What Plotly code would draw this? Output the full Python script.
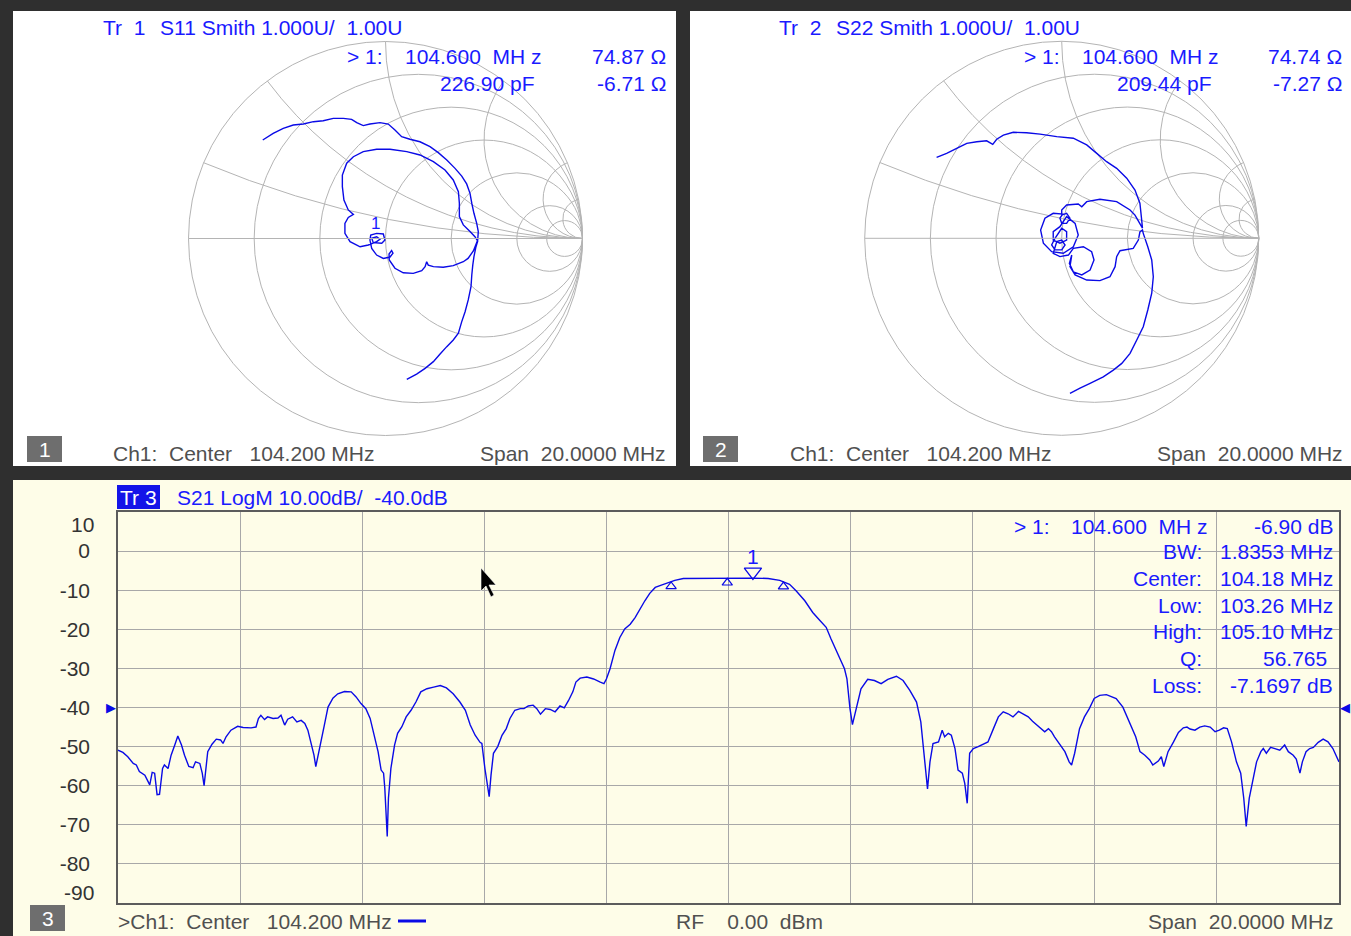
import numpy as np
import plotly.graph_objects as go

W, H = 1351, 936

# ---------------- data ----------------
s21_freq_mhz = [94.20, 94.28, 94.36, 94.45, 94.50, 94.55, 94.64, 94.72, 94.76, 94.80, 94.84, 94.88, 94.93, 94.96,
                95.02, 95.07, 95.13, 95.18, 95.24, 95.29, 95.36, 95.43, 95.47, 95.54, 95.58, 95.61, 95.67, 95.74,
                95.81, 95.88, 95.92, 95.97, 96.05, 96.16, 96.25, 96.38, 96.46, 96.50, 96.54, 96.60, 96.65, 96.74,
                96.82, 96.87, 96.93, 96.98, 97.06, 97.13, 97.20, 97.26, 97.31, 97.36, 97.41, 97.44, 97.48, 97.53,
                97.58, 97.64, 97.72, 97.80, 97.91, 98.02, 98.10, 98.18, 98.26, 98.33, 98.40, 98.46, 98.51, 98.55,
                98.57, 98.61, 98.63, 98.67, 98.73, 98.78, 98.85, 98.92, 99.00, 99.08, 99.16, 99.26, 99.37, 99.48,
                99.58, 99.69, 99.80, 99.89, 99.97, 100.05, 100.13, 100.16, 100.21, 100.24, 100.28, 100.31, 100.35,
                100.42, 100.49, 100.56, 100.62, 100.70, 100.79, 100.85, 100.92, 101.00, 101.06, 101.12, 101.20,
                101.28, 101.36, 101.44, 101.51, 101.58, 101.65, 101.70, 101.77, 101.88, 101.99, 102.10, 102.16,
                102.20, 102.26, 102.34, 102.42, 102.50, 102.59, 102.67, 102.75, 102.83, 102.91, 103.00, 103.10,
                103.21, 103.32, 103.46, 103.68, 103.95, 104.23, 104.36, 104.60, 104.85, 105.04, 105.20, 105.31,
                105.45, 105.58, 105.69, 105.80, 105.88, 105.99, 106.10, 106.14, 106.19, 106.23, 106.29, 106.37,
                106.48, 106.59, 106.70, 106.81, 106.95, 107.06, 107.17, 107.28, 107.35, 107.40, 107.46, 107.50,
                107.55, 107.64, 107.70, 107.74, 107.80, 107.85, 107.91, 107.96, 108.03, 108.07, 108.11, 108.15,
                108.21, 108.29, 108.37, 108.45, 108.54, 108.62, 108.70, 108.78, 108.86, 108.95, 109.03, 109.11,
                109.18, 109.30, 109.38, 109.44, 109.49, 109.54, 109.62, 109.71, 109.78, 109.82, 109.87, 109.95,
                110.03, 110.11, 110.19, 110.28, 110.39, 110.47, 110.55, 110.66, 110.77, 110.87, 110.94, 111.02,
                111.10, 111.15, 111.24, 111.29, 111.33, 111.40, 111.49, 111.57, 111.65, 111.71, 111.76, 111.84,
                111.92, 112.00, 112.09, 112.17, 112.24, 112.31, 112.37, 112.44, 112.52, 112.59, 112.64, 112.68,
                112.73, 112.79, 112.85, 112.92, 112.96, 113.01, 113.08, 113.15, 113.23, 113.31, 113.37, 113.45,
                113.50, 113.56, 113.60, 113.66, 113.72, 113.78, 113.86, 113.94, 114.02, 114.10, 114.20]
s21_db = [-50.9, -51.5, -52.6, -54.3, -54.7, -56.4, -57.3, -59.8, -56.6, -56.8, -62.3, -62.2, -55.6, -54.7,
          -55.6, -52.2, -49.6, -47.3, -49.6, -52.2, -55.1, -55.4, -53.9, -54.3, -56.8, -60.0, -51.3, -49.4,
          -48.1, -48.3, -49.2, -47.5, -45.8, -44.8, -45.1, -45.2, -45.0, -42.8, -42.0, -43.1, -42.4, -42.8,
          -42.7, -42.0, -44.5, -43.0, -42.4, -43.7, -43.3, -44.1, -45.8, -49.2, -52.2, -55.1, -52.2, -48.8,
          -44.5, -39.9, -37.6, -36.5, -35.9, -36.0, -37.3, -39.0, -40.3, -42.8, -47.1, -51.3, -56.0, -56.8,
          -60.6, -73.0, -63.2, -55.6, -49.6, -46.6, -44.9, -42.4, -40.7, -38.6, -36.0, -35.2, -34.8, -34.4,
          -35.0, -36.5, -38.6, -40.7, -44.5, -47.1, -48.9, -49.2, -55.6, -58.9, -62.8, -57.3, -51.7,
          -50.0, -47.1, -45.4, -42.8, -40.7, -40.3, -40.3, -39.6, -39.4, -40.3, -41.7, -40.3,
          -40.5, -41.1, -39.6, -40.1, -38.2, -36.0, -33.5, -32.5, -32.2, -32.7, -33.5, -33.9,
          -32.7, -30.1, -25.4, -22.1, -19.9, -18.7, -17.0, -14.8, -12.7, -10.8, -9.3, -8.7,
          -8.1, -7.5, -7.0, -6.95, -6.9, -6.9, -6.9, -6.9, -7.0, -7.5, -8.5, -10.2,
          -12.7, -15.7, -17.6, -19.5, -22.5, -26.3, -30.1, -32.7, -40.3, -44.4, -40.3, -35.2,
          -32.8, -33.1, -33.9, -32.8, -32.0, -33.1, -35.6, -38.6, -43.7, -52.2, -60.8, -53.9,
          -49.2, -48.8, -45.8, -47.5, -46.6, -47.1, -50.5, -56.0, -56.8, -59.4, -64.5, -51.7,
          -50.5, -50.0, -49.4, -48.8, -45.4, -42.4, -41.1, -41.6, -42.4, -41.0, -41.7, -42.4,
          -43.5, -45.2, -46.2, -45.4, -46.2, -47.5, -49.2, -51.3, -53.9, -54.7, -51.7, -45.4,
          -42.4, -40.3, -37.7, -36.9, -36.7, -37.1, -37.7, -39.9, -43.7, -47.5, -51.3, -52.2,
          -53.4, -54.7, -53.7, -52.6, -55.1, -51.3, -48.8, -46.4, -45.2, -45.0, -45.5, -45.8,
          -45.0, -44.7, -45.0, -46.2, -45.8, -45.2, -45.4, -48.8, -53.9, -56.8, -63.2, -70.4,
          -63.2, -58.1, -53.9, -51.3, -50.5, -51.7, -50.2, -50.5, -50.9, -49.6, -51.3, -52.2,
          -53.2, -56.8, -53.9, -51.3, -50.5, -50.2, -48.9, -48.1, -48.8, -50.5, -53.9]

# S11 / S22 reflection coefficient (Gamma)
s11_gamma_re = [-0.623, -0.570, -0.519, -0.468, -0.417, -0.366, -0.316, -0.265, -0.214, -0.172, -0.146, -0.113,
                -0.079, -0.028, 0.014, 0.048, 0.082, 0.124, 0.175,
                0.226, 0.268, 0.311, 0.353, 0.387, 0.412, 0.429, 0.438, 0.449, 0.463, 0.471, 0.468,
                0.446, 0.419, 0.395, 0.344, 0.293, 0.243, 0.217, 0.209, 0.201, 0.184, 0.141, 0.090, 0.048,
                0.019, 0.018, 0.031, 0.038, 0.023, -0.011, -0.045, -0.070,
                -0.079, -0.075, -0.045, -0.011, -0.003, -0.019, -0.062, -0.070, -0.045, -0.028, -0.045, -0.087,
                -0.129, -0.180, -0.206, -0.206, -0.189, -0.163,
                -0.189, -0.211, -0.219, -0.219, -0.197, -0.163, -0.113, -0.045, 0.023, 0.108, 0.175, 0.243,
                0.302, 0.344, 0.370, 0.375, 0.375, 0.395, 0.429, 0.454, 0.468,
                0.459, 0.449, 0.443, 0.438, 0.434, 0.420, 0.404, 0.387, 0.370, 0.344, 0.311, 0.277, 0.243,
                0.201, 0.158, 0.108]
s11_gamma_im = [0.500, 0.534, 0.559, 0.576, 0.581, 0.593, 0.598, 0.610, 0.610, 0.605, 0.588, 0.573,
                0.581, 0.588, 0.581, 0.551, 0.517, 0.504, 0.491,
                0.466, 0.436, 0.398, 0.356, 0.317, 0.277, 0.229, 0.179, 0.128, 0.077, 0.035, -0.008,
                -0.063, -0.101, -0.118, -0.138, -0.146, -0.143, -0.135, -0.118, -0.143, -0.163, -0.177, -0.174,
                -0.151, -0.109, -0.079, -0.061, -0.074, -0.094, -0.101, -0.084, -0.050,
                -0.008, 0.018, 0.026, 0.023, -0.008, -0.024, -0.021, 0.001, 0.009, -0.004, -0.016, -0.033,
                -0.042, -0.016, 0.026, 0.077, 0.107, 0.122,
                0.145, 0.195, 0.263, 0.322, 0.382, 0.415, 0.441, 0.453, 0.453, 0.441, 0.424, 0.390,
                0.348, 0.297, 0.238, 0.179, 0.111, 0.069, 0.035, 0.009, -0.013,
                -0.043, -0.092, -0.135, -0.185, -0.245, -0.312, -0.372, -0.422, -0.481, -0.515, -0.549, -0.586,
                -0.625, -0.659, -0.688, -0.715]

s22_gamma_re = [-0.635, -0.584, -0.533, -0.482, -0.431, -0.381, -0.350, -0.330, -0.296, -0.246, -0.178, -0.110,
                -0.025, 0.059, 0.127, 0.178, 0.228, 0.279, 0.330, 0.372, 0.397, 0.406, 0.410,
                0.372, 0.347, 0.279, 0.194, 0.127, 0.102, 0.084, 0.025, 0.000, 0.000,
                0.025, 0.042, 0.025, 0.000, -0.009, 0.005,
                -0.043, -0.085, -0.107, -0.093, -0.051, 0.008, 0.059, 0.084, 0.068, 0.025,
                -0.009, -0.043, -0.043, -0.009, 0.025, 0.025, 0.000,
                -0.034, -0.051, -0.034, 0.000, 0.017, 0.000, -0.025, -0.043, -0.009, 0.034,
                0.059, 0.110, 0.152, 0.164, 0.144, 0.102, 0.059, 0.039, 0.051,
                0.042, 0.068, 0.127, 0.194, 0.245, 0.271, 0.279, 0.296, 0.363, 0.389, 0.397, 0.410,
                0.414, 0.437, 0.457, 0.465, 0.457, 0.437, 0.414, 0.381, 0.347, 0.305, 0.262, 0.211,
                0.144, 0.093, 0.042]
s22_gamma_im = [0.411, 0.431, 0.457, 0.482, 0.490, 0.495, 0.477, 0.503, 0.524, 0.538, 0.536, 0.529,
                0.516, 0.508, 0.474, 0.431, 0.389, 0.355, 0.305, 0.245, 0.178, 0.093, 0.052,
                0.118, 0.144, 0.186, 0.198, 0.186, 0.160, 0.174, 0.169, 0.144, 0.118,
                0.127, 0.102, 0.076, 0.076, 0.102, 0.123,
                0.127, 0.102, 0.042, -0.025, -0.068, -0.076, -0.043, 0.017, 0.076, 0.110,
                0.059, 0.034, -0.009, -0.025, -0.009, 0.034, 0.051,
                0.000, -0.034, -0.059, -0.059, -0.034, -0.009, -0.017, -0.076, -0.093, -0.085,
                -0.051, -0.043, -0.068, -0.110, -0.161, -0.186, -0.170, -0.127, -0.085,
                -0.144, -0.186, -0.212, -0.215, -0.195, -0.144, -0.093, -0.063, -0.051, -0.009, 0.032, 0.042,
                0.025, -0.043, -0.110, -0.195, -0.279, -0.364, -0.449, -0.516, -0.584, -0.635, -0.669, -0.703,
                -0.736, -0.761, -0.787]

x_grid_mhz = [94.2, 96.2, 98.2, 100.2, 102.2, 104.2, 106.2, 108.2, 110.2, 112.2, 114.2]
y_tick_vals = [0, -10, -20, -30, -40, -50, -60, -70, -80]
y_tick_text = ["0", "-10", "-20", "-30", "-40", "-50", "-60", "-70", "-80"]
y_top, y_bottom = 10, -90
smith_grid = [0.2, 0.5, 1, 2, 5, 10]

marker_freq, marker_db = 104.600, -6.90
bw_freqs = [103.26, 104.18, 105.10]
ref_level_db = -40

# ---------------- styling ----------------
FONT = "Liberation Sans, Arial, sans-serif"
FS = 21
BLUE = "#1a1aff"
TRACE = "#0a0ae6"
GRAY_TXT = "#505050"
GRID = "#b4b4b4"
CREAM = "#fefde8"
FRAME = "#2f2f2f"


def gamma_to_z(re, im):
    g = np.array(re) + 1j * np.array(im)
    z = (1 + g) / (1 - g)
    return z.real, z.imag


def xp(px):
    return px / W


def yp(py):
    return 1 - py / H


def txt(s, x, y, anchor="left", size=FS, color=BLUE, **kw):
    return dict(text=s, x=xp(x), y=yp(y), xref="paper", yref="paper", xanchor=anchor,
                yanchor="middle", showarrow=False, font=dict(family=FONT, size=size, color=color), **kw)


fig = go.Figure()

# S11 / S22 traces
z11r, z11i = gamma_to_z(s11_gamma_re, s11_gamma_im)
z22r, z22i = gamma_to_z(s22_gamma_re, s22_gamma_im)
fig.add_trace(go.Scattersmith(real=z11r, imag=z11i, mode="lines", subplot="smith",
                              line=dict(color=TRACE, width=1.4), hoverinfo="skip"))
fig.add_trace(go.Scattersmith(real=z22r, imag=z22i, mode="lines", subplot="smith2",
                              line=dict(color=TRACE, width=1.4), hoverinfo="skip"))

# S21 trace
fig.add_trace(go.Scatter(x=s21_freq_mhz, y=s21_db, mode="lines", line=dict(color=TRACE, width=1.4),
                         hoverinfo="skip"))
# bandwidth markers (small open triangles just below trace)
bw_db = np.interp(bw_freqs, s21_freq_mhz, s21_db)
fig.add_trace(go.Scatter(x=bw_freqs, y=bw_db - 1.2, mode="markers",
                         marker=dict(symbol="triangle-up-open", size=9, color=TRACE, line=dict(width=1.2)),
                         hoverinfo="skip"))
# marker 1
fig.add_trace(go.Scatter(x=[marker_freq], y=[marker_db + 1.6], mode="markers",
                         marker=dict(symbol="triangle-down-open", size=15, color=TRACE, line=dict(width=1.3)),
                         hoverinfo="skip"))


def smith_domain(cx, cy, r):
    return dict(x=[xp(cx - r), xp(cx + r)], y=[yp(cy + r), yp(cy - r)])


axis_style = dict(tickvals=smith_grid, showticklabels=False, ticks="", gridcolor=GRID, gridwidth=1,
                  linecolor=GRID, linewidth=1, showline=True, showgrid=True)

shapes = []
# panels
for (x0, y0, x1, y1, col) in [(13, 11, 676, 466, "white"), (690, 11, 1351, 466, "white"),
                              (13, 480, 1351, 936, CREAM)]:
    shapes.append(dict(type="rect", xref="paper", yref="paper", x0=xp(x0), x1=xp(x1), y0=yp(y1), y1=yp(y0),
                       fillcolor=col, line=dict(width=0), layer="below"))
# numbered gray boxes
for (x0, y0, x1, y1) in [(27, 436, 62, 462), (703, 436, 738, 462), (30, 905, 65, 931)]:
    shapes.append(dict(type="rect", xref="paper", yref="paper", x0=xp(x0), x1=xp(x1), y0=yp(y1), y1=yp(y0),
                       fillcolor="#6e6e6e", line=dict(width=0)))
# Tr 3 highlight box
shapes.append(dict(type="rect", xref="paper", yref="paper", x0=xp(117), x1=xp(160), y0=yp(509), y1=yp(485),
                   fillcolor="#1414e8", line=dict(width=0)))
# trace legend line in status bar
shapes.append(dict(type="line", xref="paper", yref="paper", x0=xp(398), x1=xp(426), y0=yp(921), y1=yp(921),
                   line=dict(color=TRACE, width=3)))
# mouse cursor
cur = [(481, 568), (481, 591), (486, 586), (491, 597), (494, 595), (489, 585), (496, 585)]
path = "M " + " L ".join(f"{xp(a):.5f},{yp(b):.5f}" for a, b in cur) + " Z"
shapes.append(dict(type="path", xref="paper", yref="paper", path=path, fillcolor="black",
                   line=dict(color="white", width=0.6)))

ann = []
# panel 1
ann += [txt("Tr\u00a0 1", 101, 27.5), txt("S11 Smith 1.000U/\u00a0 1.00U", 158, 27.5),
        txt("> 1:", 345, 56.7), txt("104.600\u00a0 MH z", 403, 56.7), txt("74.87 Ω", 668, 56.7, "right"),
        txt("226.90 pF", 537, 83.3, "right"), txt("-6.71 Ω", 668, 83.3, "right"),
        txt("1", 44.5, 449, "center", color="white"),
        txt("Ch1:\u00a0 Center\u00a0\u00a0 104.200 MHz", 111, 453, color=GRAY_TXT),
        txt("Span\u00a0 20.0000 MHz", 668, 453, "right", color=GRAY_TXT),
        txt("1", 375, 223, "center", size=17)]
# panel 2
ann += [txt("Tr\u00a0 2", 777, 27.5), txt("S22 Smith 1.000U/\u00a0 1.00U", 834, 27.5),
        txt("> 1:", 1022, 56.7), txt("104.600\u00a0 MH z", 1080, 56.7), txt("74.74 Ω", 1344, 56.7, "right"),
        txt("209.44 pF", 1214, 83.3, "right"), txt("-7.27 Ω", 1344, 83.3, "right"),
        txt("2", 720.5, 449, "center", color="white"),
        txt("Ch1:\u00a0 Center\u00a0\u00a0 104.200 MHz", 788, 453, color=GRAY_TXT),
        txt("Span\u00a0 20.0000 MHz", 1345, 453, "right", color=GRAY_TXT)]
# panel 3
ann += [txt("Tr 3", 138.5, 497, "center", color="white"),
        txt("S21 LogM 10.00dB/\u00a0 -40.0dB", 175, 497),
        txt("3", 47.5, 918, "center", color="white"),
        txt(">Ch1:\u00a0 Center\u00a0\u00a0 104.200 MHz", 116, 921, color=GRAY_TXT),
        txt("RF\u00a0\u00a0\u00a0 0.00\u00a0 dBm", 674, 921, color=GRAY_TXT),
        txt("Span\u00a0 20.0000 MHz", 1336, 921, "right", color=GRAY_TXT),
        txt("> 1:", 1012, 526), txt("104.600\u00a0 MH z", 1069, 526), txt("-6.90 dB", 1335, 526, "right")]
for lab, val, yy in [("BW:", "1.8353 MHz", 551.7), ("Center:", "104.18 MHz", 578.3), ("Low:", "103.26 MHz", 605),
                     ("High:", "105.10 MHz", 631.7), ("Q:", "56.765", 658.3), ("Loss:", "-7.1697 dB", 685)]:
    ann.append(txt(lab, 1204, yy, "right"))
    ann.append(txt(val, 1329 if lab == "Q:" else 1335, yy, "right"))
# y labels at top / bottom (shifted inside like the instrument)
ann.append(dict(text=str(y_top), x=xp(96), y=y_top, xref="paper", yref="y", xanchor="right", yanchor="middle",
                yshift=-12, showarrow=False, font=dict(family=FONT, size=FS, color="#333333")))
ann.append(dict(text=str(y_bottom), x=xp(96), y=y_bottom, xref="paper", yref="y", xanchor="right",
                yanchor="middle", yshift=11, showarrow=False, font=dict(family=FONT, size=FS, color="#333333")))
# reference level arrows
ann.append(dict(text="▶", x=xp(104), y=ref_level_db, xref="paper", yref="y", xanchor="left", yanchor="middle",
                showarrow=False, font=dict(family="DejaVu Sans", size=13, color=TRACE)))
ann.append(dict(text="◀", x=xp(1352), y=ref_level_db, xref="paper", yref="y", xanchor="right", yanchor="middle",
                showarrow=False, font=dict(family="DejaVu Sans", size=13, color=TRACE)))
# marker 1 label
ann.append(dict(text="1", x=marker_freq, y=marker_db, xref="x", yref="y", yshift=22, showarrow=False,
                font=dict(family=FONT, size=FS, color=BLUE)))

fig.update_layout(
    width=W, height=H, margin=dict(l=0, r=0, t=0, b=0), paper_bgcolor=FRAME, plot_bgcolor=CREAM,
    showlegend=False,
    smith=dict(domain=smith_domain(385.5, 238.5, 197), bgcolor="white",
               realaxis=axis_style, imaginaryaxis=axis_style),
    smith2=dict(domain=smith_domain(1061.7, 238.3, 197), bgcolor="white",
                realaxis=axis_style, imaginaryaxis=axis_style),
    xaxis=dict(domain=[xp(118), xp(1339)], range=[x_grid_mhz[0], x_grid_mhz[-1]], tickvals=x_grid_mhz,
               showticklabels=False, ticks="", showgrid=True, gridcolor="#a8a8a8", gridwidth=1,
               zeroline=False, showline=True, mirror=True, linecolor="#5c5c5c", linewidth=1.5),
    yaxis=dict(domain=[yp(903), yp(512)], range=[y_bottom, y_top], tickvals=y_tick_vals, ticktext=y_tick_text,
               ticks="", showgrid=True, gridcolor="#a8a8a8", gridwidth=1, zeroline=False, showline=True,
               mirror=True, linecolor="#5c5c5c", linewidth=1.5, ticklabelstandoff=22,
               tickfont=dict(family=FONT, size=FS, color="#333333")),
    shapes=shapes, annotations=ann,
)

fig.write_html("out.html", config={"displayModeBar": False},
               post_script="document.body.style.margin='0';document.body.style.padding='0';"
                           "document.body.style.overflow='hidden';")
